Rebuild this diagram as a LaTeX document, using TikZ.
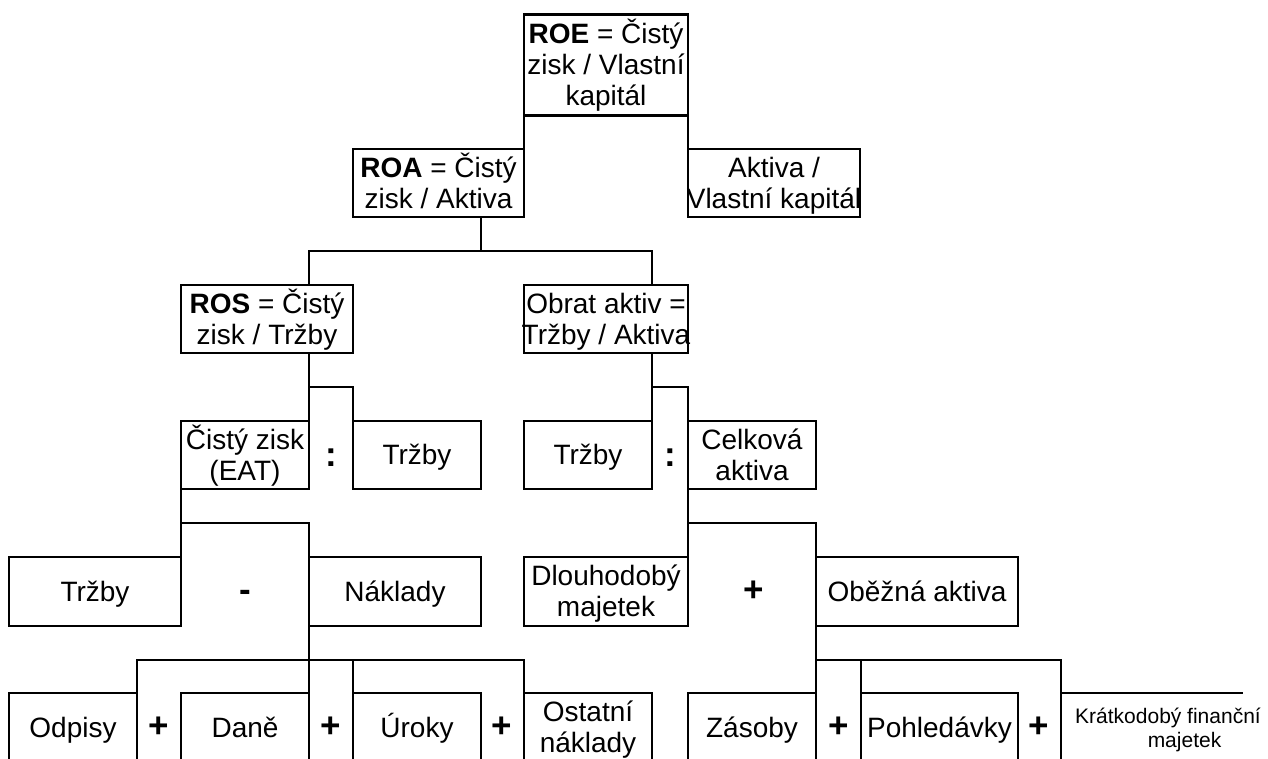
\documentclass[tikz,border=0pt]{standalone}
\usepackage{fontspec}
\setmainfont{Liberation Sans}
\newcommand\sx{\rule[-5.5pt]{0pt}{31pt}}
\newcommand\boxfont{\fontsize{28}{31}\selectfont\lineskiplimit-20pt\relax}
\begin{document}
\begin{tikzpicture}[x=1pt,y=-1pt,
  box/.style={draw, line width=2.3pt, inner sep=0pt, outer sep=0pt, align=center,
    font=\boxfont},
  op/.style={inner sep=0pt, font=\fontsize{35}{35}\selectfont\bfseries},
  small/.style={inner sep=0pt, align=center, font=\fontsize{21}{24}\selectfont},
  link/.style={line width=2.3pt, line cap=rect}]
\useasboundingbox (0,0) rectangle (1268,758);
\clip (0,0) rectangle (1268,758);
% boxes
\node[box, minimum width=164pt, minimum height=101pt] (roe) at (606,65) {\sx\textbf{ROE} = Čistý\\\sx zisk / Vlastní\\\sx kapitál};
\node[box, minimum width=171pt, minimum height=68pt] (roa) at (438.5,183) {\sx\textbf{ROA} = Čistý\\\sx zisk / Aktiva};
\node[box, minimum width=172pt, minimum height=68pt] (akt) at (774,183) {\sx Aktiva /\\\sx\makebox[0pt]{Vlastní kapitál}};
\node[box, minimum width=172pt, minimum height=68pt] (ros) at (267,319) {\sx\textbf{ROS} = Čistý\\\sx zisk / Tržby};
\node[box, minimum width=164pt, minimum height=68pt] (obr) at (606,319) {\sx Obrat aktiv =\\\sx\makebox[0pt]{Tržby / Aktiva}};
\node[box, minimum width=128pt, minimum height=68pt] (cz) at (245,455) {\sx Čistý zisk\\\sx (EAT)};
\node[box, minimum width=128pt, minimum height=68pt] (tr1) at (417,455) {\sx Tržby};
\node[box, minimum width=128pt, minimum height=68pt] (tr2) at (588,455) {\sx Tržby};
\node[box, minimum width=128pt, minimum height=68pt] (cel) at (752,455) {\sx Celková\\\sx aktiva};
\node[box, minimum width=172pt, minimum height=69pt] (tr3) at (95,591.5) {\sx Tržby};
\node[box, minimum width=172pt, minimum height=69pt] (nak) at (395,591.5) {\sx Náklady};
\node[box, minimum width=164pt, minimum height=69pt] (dlo) at (606,591.5) {\sx Dlouhodobý\\\sx majetek};
\node[box, minimum width=202pt, minimum height=69pt] (obe) at (917,591.5) {\sx Oběžná aktiva};
\node[box, minimum width=128pt, minimum height=69pt] (odp) at (73,727.5) {\sx Odpisy};
\node[box, minimum width=128pt, minimum height=69pt] (dan) at (245,727.5) {\sx Daně};
\node[box, minimum width=128pt, minimum height=69pt] (uro) at (417,727.5) {\sx Úroky};
\node[box, minimum width=128pt, minimum height=69pt] (ost) at (588,727.5) {\sx Ostatní\\\sx náklady};
\node[box, minimum width=128pt, minimum height=69pt] (zas) at (752,727.5) {\sx Zásoby};
\node[box, minimum width=157pt, minimum height=69pt] (poh) at (939.5,727.5) {\sx Pohledávky};
\node[small] (kfm) at (1168,730) {Krátkodobý finanční\\\hspace*{33pt}majetek};
% operators
\node[op] (c1) at (331,458) {:};
\node[op] (c2) at (670,458) {:};
\node[op] (m1) at (245,596) {-};
\node[op] (p1) at (754,591.5) {+};
\node[op] (p2) at (159,727.5) {+};
\node[op] (p3) at (331,727.5) {+};
\node[op] (p4) at (502,727.5) {+};
\node[op] (p5) at (839,727.5) {+};
\node[op] (p6) at (1039,727.5) {+};
% junction coordinates
\coordinate (h1) at (481,251);
\coordinate (f1) at (309,251);
\coordinate (f2) at (652,251);
\coordinate (f3) at (309,387);
\coordinate (f4) at (652,387);
\coordinate (f5) at (181,523);
\coordinate (f6) at (688,523);
\coordinate (f7) at (137,660);
\coordinate (f9) at (524,660);
\coordinate (f8) at (816,660);
\coordinate (f10) at (1061,660);
\coordinate (f11) at (1061,758);
\coordinate (f12) at (1242,693);
% connectors
\draw[link] (roe.south west) -- (roa.north east);
\draw[link] (roe.south east) -- (akt.north west);
\draw[link] (roa.south -| h1) -- (h1);
\draw[link] (ros.north -| f1) -- (f1) -- (f2) -- (obr.north -| f2);
\draw[link] (ros.south -| f3) -- (cz.north east);
\draw[link] (f3) -| (tr1.north west);
\draw[link] (obr.south -| f4) -- (tr2.north east);
\draw[link] (f4) -| (cel.north west);
\draw[link] (cz.south west) -- (tr3.north east);
\draw[link] (f5) -| (nak.north west);
\draw[link] (cel.south west) -- (dlo.north east);
\draw[link] (f6) -| (obe.north west);
\draw[link] (nak.south west) -- (dan.north east);
\draw[link] (odp.north east) -- (f7) -- (f9) -- (ost.north west);
\draw[link] (uro.north west) -- (uro.north west |- f7);
\draw[link] (obe.south west) -- (zas.north east);
\draw[link] (f8) -- (f10) -- (f11);
\draw[link] (poh.north west) -- (poh.north west |- f8);
\draw[link] (f10 |- f12) -- (f12);
\end{tikzpicture}
\end{document}
